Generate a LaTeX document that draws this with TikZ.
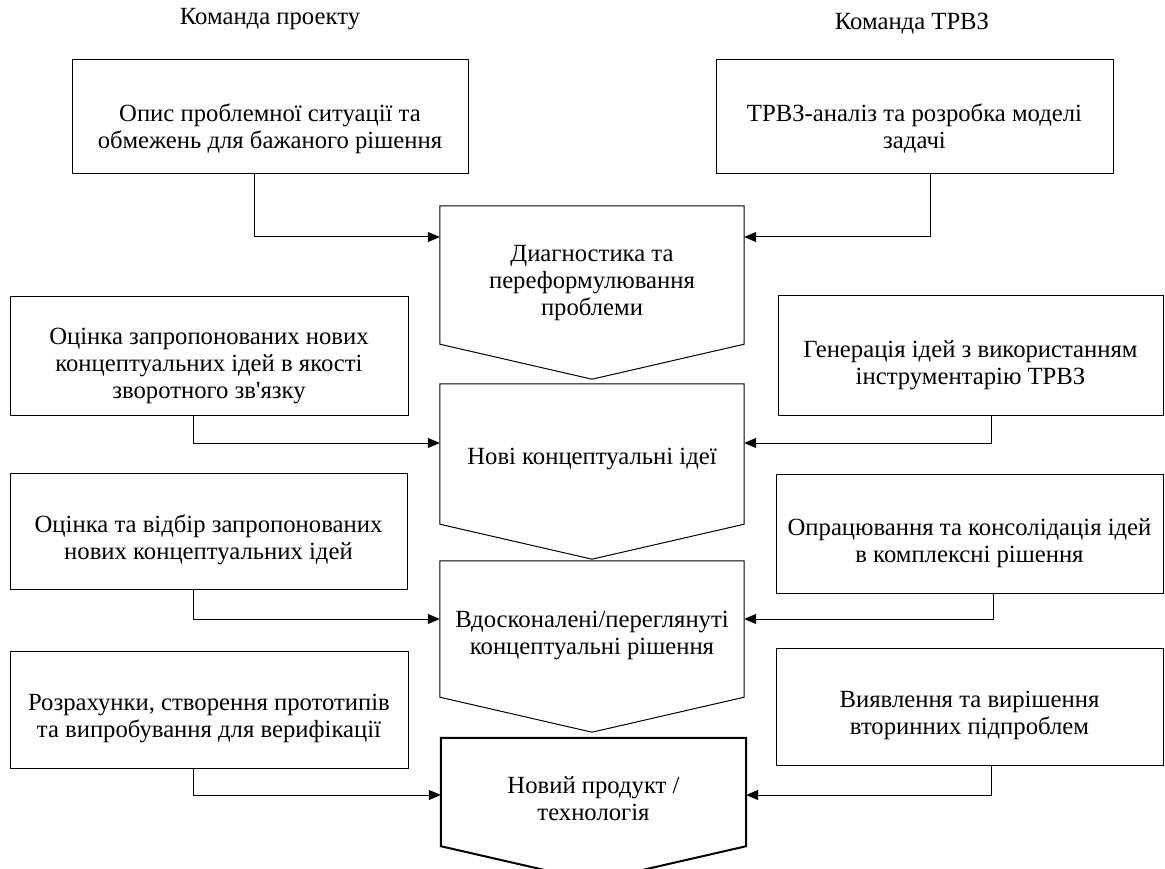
\documentclass[tikz,border=0pt]{standalone}
\usepackage{fontspec}
\setmainfont{Liberation Serif}[Ligatures=TeXOff]
\usetikzlibrary{arrows.meta,calc}
\begin{document}
\begin{tikzpicture}[x=1pt,y=-1pt,
  every node/.style={font=\fontsize{24.7}{27}\selectfont, align=center, inner sep=0pt},
  txt/.style={yshift=-3.5pt},
  sidebox/.style={draw, line width=1pt},
  flowbox/.style={draw=none},
  pent/.style={draw, line width=1pt, line join=miter},
  arr/.style={line width=1pt, -{Triangle[length=12pt,width=10pt]}},
  title/.style={yshift=-2pt}
]
\useasboundingbox (0,0) rectangle (1165,869);
\clip (0,0) rectangle (1165,869);
\fill[white] (0,0) rectangle (1165,869);

% titles
\node[title] (t1) at (270,17) {Команда проекту};
\node[title] (t2) at (912,22) {Команда ТРВЗ};

% side boxes
\node[sidebox, minimum width=396pt, minimum height=114pt] (L1) at (270,117) {};
\node[txt] (L1t) at (270,125) {Опис проблемної ситуації та\\обмежень для бажаного рішення};
\node[sidebox, minimum width=397pt, minimum height=114pt] (R1) at (914.5,117) {};
\node[txt] (R1t) at (914.5,125) {ТРВЗ-аналіз та розробка моделі\\задачі};

\node[sidebox, minimum width=398pt, minimum height=119pt] (L2) at (209,355.5) {};
\node[txt] (L2t) at (209,362) {Оцінка запропонованих нових\\концептуальних ідей в якості\\зворотного зв'язку};
\node[sidebox, minimum width=385pt, minimum height=120pt] (R2) at (970.5,355) {};
\node[txt] (R2t) at (970.5,362) {Генерація ідей з використанням\\інструментарію ТРВЗ};

\node[sidebox, minimum width=397pt, minimum height=116pt] (L3) at (208.5,531) {};
\node[txt] (L3t) at (208.5,536) {Оцінка та відбір запропонованих\\нових концептуальних ідей};
\node[sidebox, minimum width=387pt, minimum height=119pt] (R3) at (969.5,533.5) {};
\node[txt] (R3t) at (969.5,540) {Опрацювання та консолідація ідей\\в комплексні рішення};

\node[sidebox, minimum width=398pt, minimum height=117pt] (L4) at (209,709.5) {};
\node[txt] (L4t) at (209,715) {Розрахунки, створення прототипів\\та випробування для верифікації};
\node[sidebox, minimum width=387pt, minimum height=117pt] (R4) at (969.5,706.5) {};
\node[txt] (R4t) at (969.5,712) {Виявлення та вирішення\\вторинних підпроблем};

% central flow boxes
\node[flowbox, minimum width=304pt, minimum height=138pt] (D1) at (592,275) {};
\node[txt] (D1t) at (592,280) {Диагностика та\\переформулювання\\проблеми};
\draw[pent] (D1.north west) -- (D1.north east) -- (D1.south east) -- ($(D1.south)+(0,35)$) -- (D1.south west) -- cycle;

\node[flowbox, minimum width=304pt, minimum height=140pt] (D2) at (592,454) {};
\node[txt] (D2t) at (592,455) {Нові концептуальні ідеї};
\draw[pent] (D2.north west) -- (D2.north east) -- (D2.south east) -- ($(D2.south)+(0,35)$) -- (D2.south west) -- cycle;

\node[flowbox, minimum width=304pt, minimum height=136pt] (D3) at (592,629) {};
\node[txt] (D3t) at (592,632) {Вдосконалені/переглянуті\\концептуальні рішення};
\draw[pent] (D3.north west) -- (D3.north east) -- (D3.south east) -- ($(D3.south)+(0,35)$) -- (D3.south west) -- cycle;

\node[flowbox, minimum width=305pt, minimum height=108pt] (D4) at (593.5,792) {};
\node[txt] (D4t) at (593.5,795) {Новий продукт /\\технологія};
\draw[pent, line width=2pt] (D4.north west) -- (D4.north east) -- (D4.south east) -- ($(D4.south)+(0,35)$) -- (D4.south west) -- cycle;

% connectors
\draw[arr] (L1.south -| 254,0) |- (D1.west |- 0,237);
\draw[arr] (R1.south -| 930,0) |- (D1.east |- 0,237);
\draw[arr] (L2.south -| 193,0) |- (D2.west |- 0,443);
\draw[arr] (R2.south -| 991,0) |- (D2.east |- 0,443);
\draw[arr] (L3.south -| 193,0) |- (D3.west |- 0,619);
\draw[arr] (R3.south -| 993,0) |- (D3.east |- 0,619);
\draw[arr] (L4.south -| 193,0) |- (D4.west |- 0,795);
\draw[arr] (R4.south -| 991,0) |- (D4.east |- 0,795);
\end{tikzpicture}
\end{document}
